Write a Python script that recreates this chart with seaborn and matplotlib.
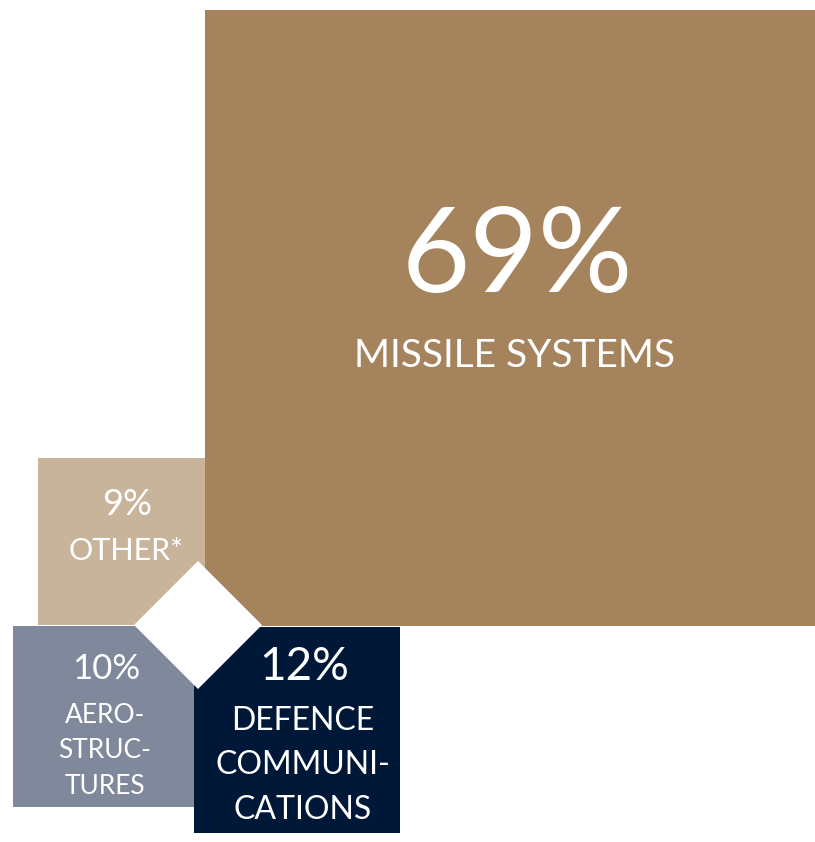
import numpy as np
import matplotlib
matplotlib.use("Agg")
import matplotlib.pyplot as plt
import seaborn as sns

# Revenue split by business segment
segments = ["MISSILE SYSTEMS", "OTHER*", "AERO-\nSTRUC-\nTURES", "DEFENCE\nCOMMUNI-\nCATIONS"]
shares = [69, 9, 10, 12]
share_labels = ["69%", "9%", "10%", "12%"]

sns.set_theme(style="white")
plt.rcParams["font.family"] = ["Lato", "DejaVu Sans"]

colors = ["#A5845D", "#C8B49A", "#80899C", "#001838"]

W, H = 815, 842
fig = plt.figure(figsize=(W / 100, H / 100), dpi=100)
ax = fig.add_axes([0, 0, 1, 1])
ax.set_xlim(0, W)
ax.set_ylim(H, 0)
ax.axis("off")

# square side grows with the square root of the share
side = -86.8 + 84.58 * np.sqrt(np.array(shares, dtype=float))

# squares meet around a common hub
split_top_x, split_bot_x, split_y = 205, 194, 626
lefts = [split_top_x, split_top_x - side[1], split_bot_x - side[2], split_bot_x]
tops = [split_y - side[0], split_y - 1 - side[1], split_y, split_y + 1]

for l, t, s, c in zip(lefts, tops, side, colors):
    ax.bar(l, s, width=s, bottom=t, align="edge", color=c, linewidth=0)

# white diamond at the hub
cx, cy, r = 198, 625, 64
ax.fill([cx, cx + r, cx, cx - r], [cy - r, cy, cy + r, cy], color="white", lw=0, zorder=3)

# share and name labels (baseline positions)
pct_pos = [(517, 292, 85), (127, 515, 26), (106, 679, 25), (304, 680, 33)]
name_pos = [(515, 367, 28, 0), (126, 560, 22, 0), (105, 723, 19, 35.5), (303, 730, 23, 44.5)]

for lab, (x, y, fs) in zip(share_labels, pct_pos):
    ax.text(x, y, lab, color="white", fontsize=fs, ha="center", va="baseline", zorder=4)

for name, (x, y, fs, step) in zip(segments, name_pos):
    for i, line in enumerate(name.split("\n")):
        ax.text(x, y + i * step, line, color="white", fontsize=fs,
                ha="center", va="baseline", zorder=4)

fig.savefig("out.png", dpi=100)
